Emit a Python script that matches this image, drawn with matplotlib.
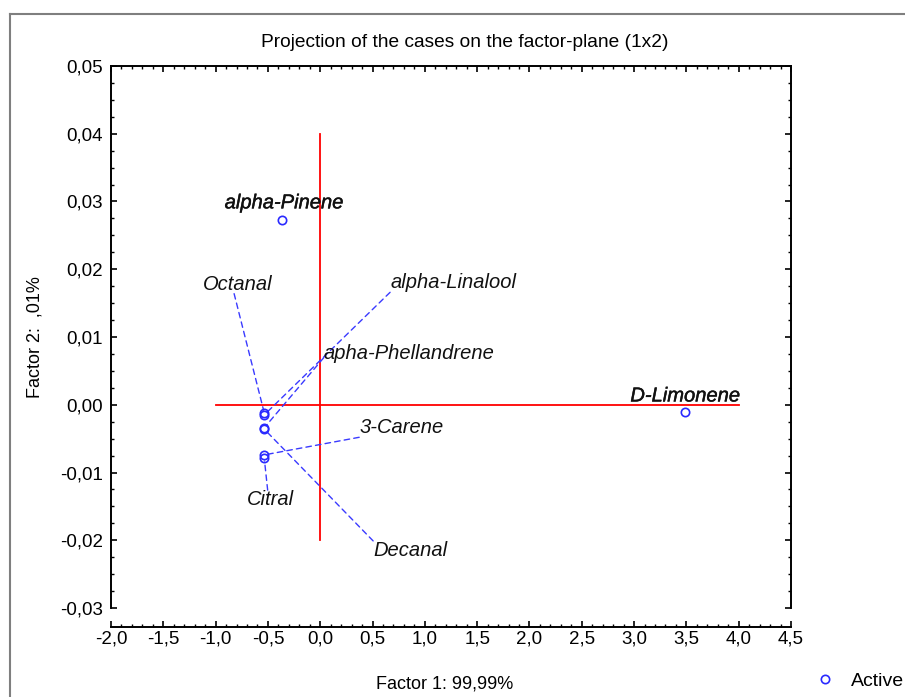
import matplotlib
matplotlib.use("Agg")
import matplotlib.pyplot as plt
from matplotlib.ticker import MultipleLocator, FuncFormatter
from matplotlib.lines import Line2D
import matplotlib.patheffects as pe

# ---- data ----
names = ["alpha-Pinene", "D-Limonene", "Octanal", "alpha-Linalool",
         "apha-Phellandrene", "Decanal", "3-Carene", "Citral"]
factor1 = [-0.363, 3.49, -0.535, -0.535, -0.535, -0.535, -0.535, -0.535]
factor2 = [0.0273, -0.0010, -0.0012, -0.0015, -0.0034, -0.0036, -0.0074, -0.0079]
label_x = [-0.344, 3.49, -0.79, 1.27, 0.85, 0.86, 0.775, -0.48]
label_y = [0.0298, 0.0013, 0.0178, 0.0180, 0.0075, -0.0215, -0.0034, -0.0140]
leader = [False, False, True, True, True, True, True, True]
emph = [True, True, False, False, False, False, False, False]
leader_rel = [(0.5, 0.5), (0.5, 0.5), (0.45, 0.0), (0.0, 0.0), (0.0, 0.3),
              (0.0, 1.0), (0.0, 0.0), (0.45, 1.0)]
hline_x = [-1.0, 4.0]
vline_y = [-0.02, 0.04]

title = "Projection of the cases on the factor-plane (1x2)"
xlabel = "Factor 1: 99,99%"
ylabel = "Factor 2:  ,01%"

plt.rcParams['font.family'] = ['Liberation Sans', 'DejaVu Sans']

W, H = 905, 697
fig = plt.figure(figsize=(W / 100, H / 100), dpi=100)
ax = fig.add_axes([111 / W, 1 - 608 / H, (791 - 111) / W, (608 - 66) / H])

ax.set_xlim(-2.0, 4.5)
ax.set_ylim(-0.03, 0.05)

# reference lines
ax.plot(hline_x, [0, 0], color='red', lw=1.3, zorder=2)
ax.plot([0, 0], vline_y, color='red', lw=1.3, zorder=2)

# points
ax.plot(factor1, factor2, ls='none', marker='o', ms=6, mfc='none',
        mec='#2a2aff', mew=1.2, zorder=4)

for i, n in enumerate(names):
    kw = dict(fontsize=14.5, style='italic', ha='center', va='center', color='#111111')
    if emph[i]:
        kw['path_effects'] = [pe.withStroke(linewidth=0.3, foreground='#111111')]
    if leader[i]:
        ax.annotate(n, xy=(factor1[i], factor2[i]), xytext=(label_x[i], label_y[i]),
                    arrowprops=dict(arrowstyle='-', ls=(0, (4, 3)), color='#3a3aff',
                                    lw=1.0, patchA=None, shrinkA=0, shrinkB=2,
                                    relpos=leader_rel[i]),
                    zorder=3, **kw)
    else:
        ax.text(label_x[i], label_y[i], n, zorder=3, **kw)

# axes styling
for s in ax.spines.values():
    s.set_linewidth(1.4)
    s.set_color('black')
ax.spines['bottom'].set_position(('outward', 13.5))

ax.xaxis.set_major_locator(MultipleLocator(0.5))
ax.xaxis.set_minor_locator(MultipleLocator(0.1))
ax.yaxis.set_major_locator(MultipleLocator(0.01))
ax.yaxis.set_minor_locator(MultipleLocator(0.0025))
ax.xaxis.set_major_formatter(FuncFormatter(lambda v, p: ("0,0" if abs(v) < 1e-9 else f"{v:.1f}".replace('.', ','))))
ax.yaxis.set_major_formatter(FuncFormatter(lambda v, p: ("0,00" if abs(v) < 1e-9 else f"{v:.2f}".replace('.', ','))))
ax.tick_params(which='both', direction='in', top=True, right=True,
               labelsize=13.5, colors='black')
ax.tick_params(axis='x', which='both', pad=3)
ax.tick_params(axis='y', which='both', pad=6)
ax.tick_params(which='major', length=4, width=1.2)
ax.tick_params(which='minor', length=2.5, width=1.0)

ax.set_title(title, fontsize=13.8, pad=14, x=0.5 + 14 / 680)
ax.set_xlabel(xlabel, fontsize=13)
ax.set_ylabel(ylabel, fontsize=13, labelpad=12)
ax.xaxis.set_label_coords(0.49, -0.125)

# legend
h = Line2D([], [], ls='none', marker='o', ms=6, mfc='none', mec='#2a2aff', mew=1.2)
fig.legend([h], ["Active"], loc='center left', bbox_to_anchor=(813 / W, 1 - 681 / H),
           frameon=False, fontsize=14, handletextpad=0.75, handlelength=1.2,
           borderpad=0, borderaxespad=0)

# outer frame
fig.add_artist(Line2D([10 / W, 1], [1 - 14 / H, 1 - 14 / H], transform=fig.transFigure,
                      color='#7f7f7f', lw=1.5))
fig.add_artist(Line2D([10 / W, 10 / W], [0, 1 - 14 / H], transform=fig.transFigure,
                      color='#7f7f7f', lw=1.5))

fig.savefig("out.png", dpi=100)
